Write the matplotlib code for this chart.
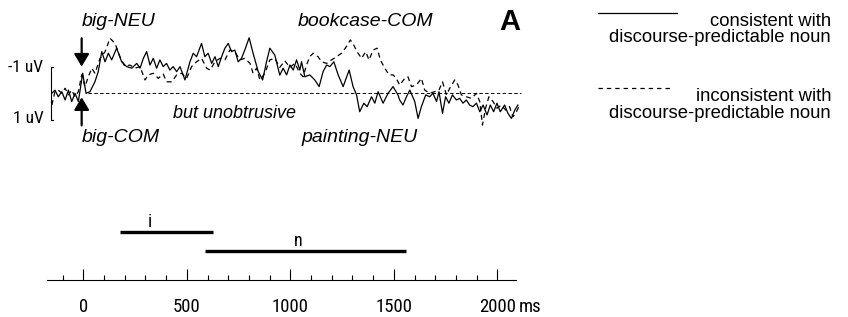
import os
import matplotlib
matplotlib.use("Agg")
import matplotlib.pyplot as plt
from matplotlib import font_manager as fm
from matplotlib.lines import Line2D

# ERP traces (ms, uV; negative plotted up)
t_cons = [-152, -137, -121, -104, -88, -72, -56, -40, -24, -3, 13, 32, 56, 72, 89, 105, 121, 137,
          161, 185, 209, 234, 258, 274, 290, 306, 322, 338, 354, 370, 386, 402, 418, 434, 451, 467,
          491, 515, 531, 547, 571, 587, 603, 620, 636, 652, 668, 684, 700, 716, 732, 748, 764, 780,
          801, 820, 845, 866, 885, 901, 925, 949, 965, 982, 998, 1014, 1030, 1046, 1054, 1070, 1094,
          1118, 1139, 1158, 1175, 1191, 1210, 1231, 1255, 1284, 1303, 1320, 1335, 1355, 1371, 1392,
          1408, 1424, 1448, 1472, 1496, 1520, 1528, 1544, 1561, 1577, 1601, 1617, 1633, 1654, 1673,
          1689, 1706, 1718, 1735, 1750, 1766, 1783, 1802, 1818, 1834, 1850, 1866, 1882, 1899, 1915,
          1931, 1950, 1966, 1982, 1998, 2014, 2035, 2051, 2068, 2084, 2099]
v_cons = [0.0, -0.12, 0.13, -0.06, 0.25, -0.12, 0.31, 0.0, 0.31, -0.75, 0.0, -0.06, -0.43, -0.81,
          -1.56, -1.18, -1.50, -1.25, -1.69, -1.18, -1.00, -0.94, -1.12, -0.94, -1.31, -1.56, -1.06,
          -1.31, -0.94, -1.25, -1.00, -1.12, -0.87, -1.00, -0.81, -1.00, -0.50, -1.18, -1.50, -1.37,
          -1.87, -1.37, -1.50, -1.12, -1.37, -1.00, -1.37, -1.69, -1.87, -1.56, -1.62, -1.18, -1.31,
          -1.62, -2.08, -1.50, -0.81, -0.50, -1.18, -1.69, -1.43, -0.68, -0.94, -0.69, -1.06, -0.87,
          -1.25, -0.87, -1.18, -0.62, -0.69, -0.50, -0.25, -0.81, -1.06, -1.00, -1.18, -0.69, -0.25,
          -0.87, -0.25, 0.06, 0.69, 0.37, 0.50, 0.13, 0.37, -0.06, 0.37, 0.0, -0.25, 0.06, 0.25, 0.44,
          0.13, -0.12, 0.31, 0.94, 0.50, 0.06, 0.13, 0.0, 0.31, -0.06, 0.75, 0.13, 0.37, 0.06, 0.25,
          0.19, 0.37, 0.25, 0.44, 0.50, 0.37, 0.69, 0.44, 0.81, 0.44, 0.69, 0.37, 0.69, 0.44, 0.75,
          0.94, 0.63, 0.44]

t_incons = [-152, -137, -121, -104, -88, -72, -56, -40, -24, -8, 8, 24, 41, 56, 81, 105, 129, 153,
            177, 201, 225, 250, 274, 298, 314, 338, 362, 386, 402, 427, 451, 475, 499, 523, 547, 571,
            596, 612, 636, 660, 684, 708, 732, 756, 780, 805, 820, 837, 853, 877, 901, 925, 949, 973,
            998, 1022, 1046, 1062, 1078, 1094, 1110, 1134, 1151, 1175, 1199, 1223, 1247, 1271, 1290,
            1306, 1322, 1344, 1364, 1380, 1400, 1419, 1435, 1456, 1477, 1496, 1512, 1528, 1553, 1568,
            1585, 1609, 1633, 1649, 1673, 1697, 1718, 1735, 1754, 1770, 1794, 1810, 1826, 1850, 1874,
            1899, 1915, 1928, 1943, 1959, 1979, 1998, 2019, 2040, 2059, 2075, 2092, 2104]
v_incons = [0.44, -0.06, -0.12, 0.0, -0.19, 0.06, -0.12, 0.13, -0.06, -0.69, -0.25, -0.62, -0.94,
            -0.75, -1.31, -1.56, -2.06, -1.87, -1.37, -1.00, -1.06, -0.94, -1.00, -0.50, -0.69, -0.75,
            -0.56, -0.72, -0.43, -0.43, -0.69, -0.75, -0.56, -1.00, -1.18, -1.31, -0.94, -0.87, -1.18,
            -1.31, -1.25, -1.62, -1.56, -1.25, -1.31, -1.12, -0.75, -0.94, -0.50, -0.75, -1.25, -1.31,
            -0.97, -1.22, -0.97, -1.12, -0.75, -0.62, -1.06, -1.37, -1.50, -1.37, -1.18, -1.12, -1.25,
            -1.37, -1.50, -1.75, -2.00, -1.81, -1.56, -1.31, -1.56, -1.25, -1.62, -1.69, -1.25, -0.94,
            -0.69, -0.69, -0.56, -0.31, -0.56, -0.62, -0.25, -0.31, -0.56, -0.12, 0.0, -0.06, -0.12,
            -0.43, 0.06, -0.19, -0.50, -0.31, 0.06, 0.13, 0.19, 0.0, 0.31, 1.19, 0.56, 0.13, 0.31,
            0.56, 0.44, 0.63, 0.50, 0.88, 0.69, 0.50]

# time windows shown under the traces
win_labels = ["i", "n"]
win_start = [177, 587]
win_end = [627, 1557]
win_label_t = [322, 1036]

major_ticks = [0, 500, 1000, 1500, 2000]
tick_labels = ["0", "500", "1000", "1500", "2000"]
minor_ticks = list(range(-100, 2001, 100))

SANS = ["Liberation Sans", "DejaVu Sans"]


def narrow_font():
    # the tick labels in the original use a condensed face; take whatever is installed
    prefs = ["Liberation Sans Narrow", "Roboto Condensed", "Noto Sans", "Open Sans",
             "DejaVu Sans", "Roboto"]
    found = []
    for f in fm.fontManager.ttflist:
        base = os.path.basename(f.fname)
        cond = ("Narrow" in f.name or "Condensed" in f.name or "Condensed" in base
                or "Narrow" in base or f.stretch == "condensed")
        if not cond or f.style != "normal" or f.weight not in (400, "normal", "regular"):
            continue
        if "Semi" in base or "Extra" in base or "Ultra" in base:
            continue
        rank = next((i for i, p in enumerate(prefs) if f.name.startswith(p)), len(prefs))
        found.append((rank, f.fname))
    if found:
        return sorted(found)[0][1]
    return None


NARROW_FILE = narrow_font()


def nfont(size):
    if NARROW_FILE:
        return fm.FontProperties(fname=NARROW_FILE, size=size)
    return fm.FontProperties(family=SANS, size=size * 0.85)


W, H = 848, 317
fig = plt.figure(figsize=(W / 100, H / 100), dpi=100)
XL = (-174, 2090)
left = 47.3 / W
width = (516 - 47.3) / W

# ---- ERP panel
ax = fig.add_axes([left, 1 - 140 / H, width, 120 / H])
ax.set_xlim(*XL)
ax.set_ylim(1.749, -2.745)
ax.axis("off")
ax.plot(t_cons, v_cons, color="black", lw=0.9, clip_on=False)
ax.plot(t_incons, v_incons, color="black", lw=0.9, ls=(0, (4, 3)), clip_on=False)
ax.plot([23, 2116], [0, 0], color="black", lw=0.7, ls=(0, (3.5, 2.5)), clip_on=False)

# uV scale bracket
ax.plot([-145, -157, -157, -145], [-1, -1, 1, 1], color="black", lw=0.8, clip_on=False)
ax.text(-193, -0.95, "-1 uV", ha="right", va="center", fontproperties=nfont(12.5))
ax.text(-193, 0.95, "1 uV", ha="right", va="center", fontproperties=nfont(12.5))

arrow = dict(arrowstyle="-|>,head_length=0.75,head_width=0.45", lw=1.6, color="black",
             mutation_scale=10, shrinkA=0, shrinkB=0)
ax.annotate("", xy=(-8, -1.0), xytext=(-8, -2.06), arrowprops=arrow, annotation_clip=False)
ax.annotate("", xy=(-8, 0.15), xytext=(-8, 1.2), arrowprops=arrow, annotation_clip=False)

lab = dict(fontsize=14, style="italic", family=SANS, va="center", clip_on=False)
ax.text(-6, -2.68, "big-NEU", ha="left", **lab)
ax.text(-6, 1.66, "big-COM", ha="left", **lab)
ax.text(1036, -2.68, "bookcase-COM", ha="left", **lab)
ax.text(1055, 1.66, "painting-NEU", ha="left", **lab)
ax.text(433, 0.74, "but unobtrusive", ha="left", fontsize=13, style="italic", family=SANS,
        va="center")
ax.text(2060, -2.67, "A", ha="center", va="center", fontsize=21, fontweight="bold", family=SANS)

# ---- time axis with windows
tx = fig.add_axes([left, 1 - 280 / H, width, 70 / H])
tx.set_xlim(*XL)
tx.set_ylim(0, 1)
for s in ["top", "left", "right"]:
    tx.spines[s].set_visible(False)
tx.spines["bottom"].set_linewidth(0.8)
tx.set_yticks([])
tx.set_xticks(major_ticks)
tx.set_xticklabels(tick_labels)
for t in tx.get_xticklabels():
    t.set_fontproperties(nfont(13.5))
tx.set_xticks(minor_ticks, minor=True)
tx.tick_params(axis="x", which="major", direction="in", length=8, width=0.8, pad=13)
tx.tick_params(axis="x", which="minor", direction="in", length=3.6, width=0.8)
tx.patch.set_visible(False)

rows = [0.69, 0.414]
for lbl, s, e, lt, r in zip(win_labels, win_start, win_end, win_label_t, rows):
    tx.plot([s, e], [r, r], color="black", lw=2.4, solid_capstyle="butt")
    tx.text(lt, r + 0.145, lbl, ha="center", va="center", fontproperties=nfont(13))

# ---- legend
fig.add_artist(Line2D([598 / W, 677 / W], [1 - 12.7 / H] * 2, color="black", lw=0.9))
fig.add_artist(Line2D([598 / W, 672 / W], [1 - 88 / H] * 2, color="black", lw=0.9,
                      ls=(0, (3.5, 3.2))))
leg = dict(ha="right", va="top", fontsize=13.3, family=SANS, multialignment="right",
           linespacing=1.0)
fig.text(831 / W, 1 - 12.5 / H, "consistent with\ndiscourse-predictable noun", **leg)
fig.text(831 / W, 1 - 87.5 / H, "inconsistent with\ndiscourse-predictable noun", **leg)

# unit after the last tick label
fig.canvas.draw()
lab2000 = tx.get_xticklabels()[-1]
bb = lab2000.get_window_extent()
ms_x, ms_y = fig.transFigure.inverted().transform(((bb.x1 + 3), (bb.y0 + bb.y1) / 2))
fig.text(ms_x, ms_y, "ms", ha="left", va="center", fontproperties=nfont(13.5))

fig.savefig("out.png", dpi=100)
